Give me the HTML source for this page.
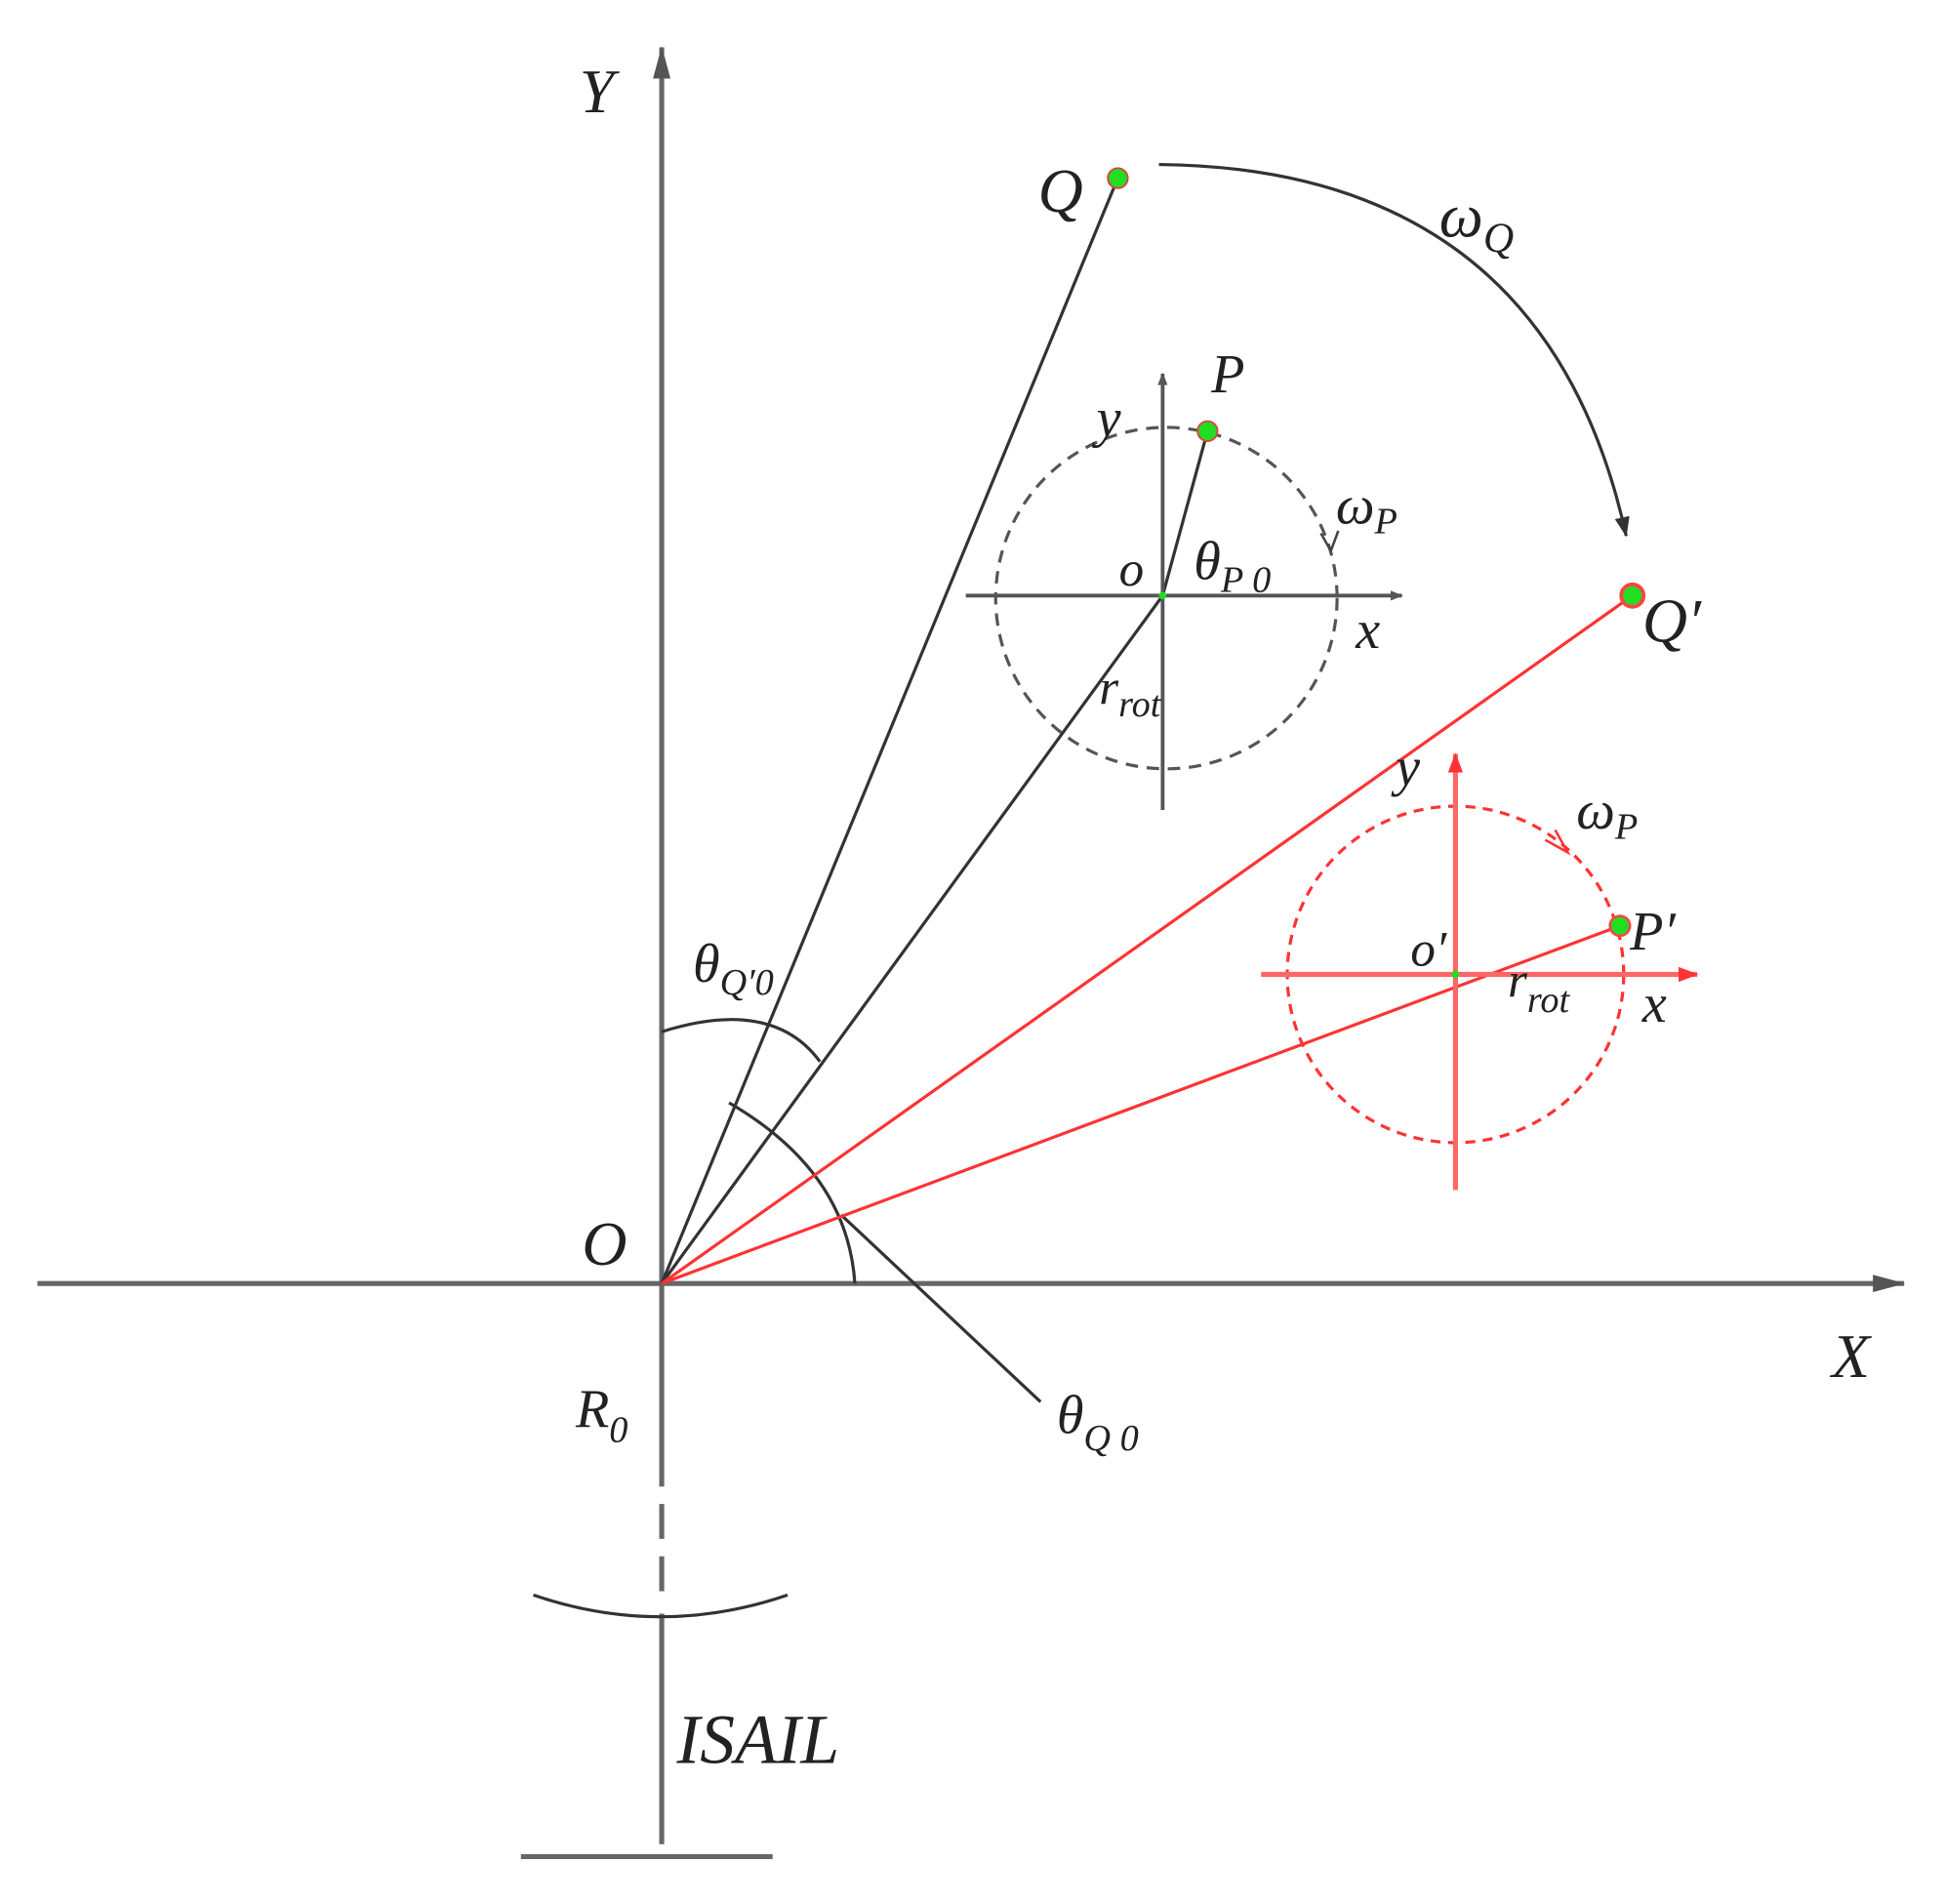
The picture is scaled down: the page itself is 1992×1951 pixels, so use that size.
<!DOCTYPE html>
<html><head><meta charset="utf-8"><style>html,body{margin:0;padding:0;background:#fff}svg{display:block}</style></head>
<body>
<svg width="1992" height="1951" viewBox="0 0 1560 1528" xmlns="http://www.w3.org/2000/svg" font-family="Liberation Serif, serif" font-style="italic">
<defs>
<marker id="ab" markerWidth="10" markerHeight="10" refX="9" refY="5" orient="auto" markerUnits="userSpaceOnUse"><path d="M0,1 L10,5 L0,9 Z" fill="#555"/></marker>
<marker id="abig" markerWidth="26" markerHeight="14" refX="25" refY="7" orient="auto" markerUnits="userSpaceOnUse"><path d="M0,0 L26,7 L0,14 Z" fill="#555"/></marker>
<marker id="ar" markerWidth="16" markerHeight="12" refX="15" refY="6" orient="auto" markerUnits="userSpaceOnUse"><path d="M0,0 L16,6 L0,12 Z" fill="#f33"/></marker>
<marker id="ak" markerWidth="16" markerHeight="12" refX="15" refY="6" orient="auto" markerUnits="userSpaceOnUse"><path d="M0,0 L16,6 L0,12 Z" fill="#333"/></marker>
</defs>
<g stroke="#666" stroke-width="4" fill="none">
<line x1="531" y1="1030" x2="531" y2="38" marker-end="url(#abig)"/>
<line x1="30" y1="1030" x2="1528" y2="1030" marker-end="url(#abig)"/>
<line x1="531" y1="1030" x2="531" y2="1165"/>
<line x1="531" y1="1165" x2="531" y2="1290" stroke-dasharray="28,14"/>
<line x1="531" y1="1295" x2="531" y2="1480"/>
<line x1="418" y1="1490" x2="620" y2="1490"/>
</g>
<path d="M428,1280 Q530,1315 632,1280" stroke="#333" stroke-width="2.5" fill="none"/>
<g stroke="#333" stroke-width="2.5" fill="none">
<line x1="531" y1="1030" x2="897" y2="143"/>
<line x1="531" y1="1030" x2="933" y2="478"/>
<line x1="933" y1="478" x2="969" y2="346"/>
<path d="M930,132 Q1240,135 1305,430" marker-end="url(#ak)"/>
<path d="M531,828 Q620,800 658,852"/>
<path d="M585,885 Q680,940 686,1030"/>
<line x1="675" y1="975" x2="835" y2="1125"/>
</g>
<g stroke="#555" stroke-width="3" fill="none">
<line x1="775" y1="478" x2="1125" y2="478" marker-end="url(#ab)"/>
<line x1="933" y1="650" x2="933" y2="300" marker-end="url(#ab)"/>
<circle cx="936" cy="480" r="137" stroke-dasharray="10,7" stroke-width="2.5"/>
</g>
<path d="M1060,428 L1068,442 L1074,426" stroke="#444" stroke-width="2" fill="none"/>
<g stroke="#f33" stroke-width="2.5" fill="none">
<line x1="531" y1="1030" x2="1310" y2="478"/>
<line x1="531" y1="1030" x2="1300" y2="743"/>
<circle cx="1168" cy="782" r="135" stroke-dasharray="8,6"/>
</g>
<path d="M1240,674 L1258,684 L1248,666" stroke="#f33" stroke-width="2" fill="none"/>
<g stroke="#f66" stroke-width="4" fill="none">
<line x1="1012" y1="782" x2="1362" y2="782" marker-end="url(#ar)"/>
<line x1="1168" y1="955" x2="1168" y2="605" marker-end="url(#ar)"/>
</g>
<circle cx="897" cy="143" r="8" fill="#2d2" stroke="#d44" stroke-width="1.5"/>
<circle cx="969" cy="346" r="8" fill="#2d2" stroke="#d44" stroke-width="1.5"/>
<circle cx="1310" cy="478" r="9" fill="#2d2" stroke="#f44" stroke-width="3"/>
<circle cx="1300" cy="743" r="8" fill="#2d2" stroke="#f44" stroke-width="2"/>
<circle cx="933" cy="478" r="3" fill="#2d2"/>
<circle cx="1168" cy="782" r="3" fill="#2d2"/>
<g fill="#222" font-size="50">
<text x="465" y="90">Y</text>
<text x="1470" y="1105">X</text>
<text x="467" y="1015">O</text>
<text x="833" y="170">Q</text>
<text x="1318" y="515">Q′</text>
<text x="1155" y="190">ω<tspan font-size="34" dy="12">Q</tspan></text>
<text x="972" y="315" font-size="44">P</text>
<text x="1308" y="762" font-size="44">P′</text>
<text x="880" y="350" font-size="44">y</text>
<text x="1088" y="520" font-size="44">x</text>
<text x="898" y="470" font-size="40">o</text>
<text x="958" y="465" font-size="44">θ<tspan font-size="30" dy="10">P 0</tspan></text>
<text x="1072" y="420" font-size="44">ω<tspan font-size="30" dy="8">P</tspan></text>
<text x="882" y="565" font-size="40">r<tspan font-size="30" dy="10">rot</tspan></text>
<text x="1120" y="630" font-size="44">y</text>
<text x="1265" y="665" font-size="44">ω<tspan font-size="30" dy="8">P</tspan></text>
<text x="1132" y="775" font-size="40">o′</text>
<text x="1210" y="800" font-size="40">r<tspan font-size="30" dy="12">rot</tspan></text>
<text x="1318" y="820" font-size="44">x</text>
<text x="556" y="788" font-size="44">θ<tspan font-size="30" dy="10">Q′0</tspan></text>
<text x="848" y="1150" font-size="44">θ<tspan font-size="30" dy="14">Q 0</tspan></text>
<text x="462" y="1145" font-size="44">R<tspan font-size="30" dy="12">0</tspan></text>
<text x="543" y="1415" font-size="56">ISAIL</text>
</g>
</svg>
</body></html>
